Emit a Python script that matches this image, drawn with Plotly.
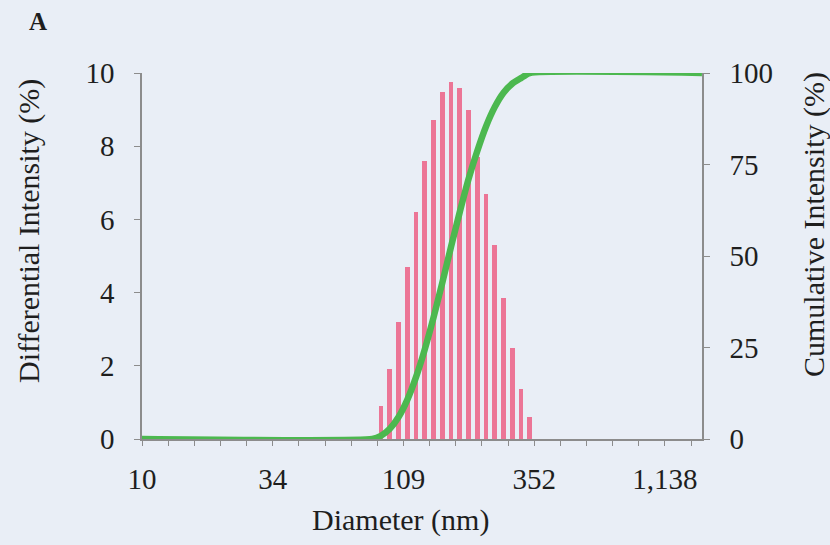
import math
import plotly.graph_objects as go

# ---------------- data ----------------
diameters = [89.5, 96.8, 104.7, 113.2, 122.4, 132.4, 143.2, 154.9, 167.5,
             181.1, 195.9, 211.9, 229.1, 247.8, 268.0, 289.8, 313.4, 339.0]
differential = [0.90, 1.91, 3.21, 4.69, 6.20, 7.60, 8.71, 9.47, 9.76,
                9.58, 8.99, 7.71, 6.70, 5.29, 3.84, 2.50, 1.36, 0.60]

cum_diameters = [10.5, 82.8] + diameters + [1585]
cumulative = [0, 0,
              0.9, 2.8, 6.0, 10.7, 16.9, 24.5, 33.2, 42.7, 52.5,
              62.0, 71.0, 78.7, 85.4, 90.7, 94.6, 97.1, 98.6, 100,
              100]

x_tick_values = [10.52, 34, 109, 352, 1138]
x_tick_labels = ["10", "34", "109", "352", "1,138"]
y_left_ticks = [0, 2, 4, 6, 8, 10]
y_right_ticks = [0, 25, 50, 75, 100]

# ---------------- styling ----------------
FONT = "Liberation Serif, Times New Roman, serif"
TXT = "#1e1e1e"
AX = "#8c8c8c"
BG = "#e9eef6"
PINK = "#ec7596"
GREEN = "#4cb84f"
FS = 29
FT = 30

# minor ticks: 5 per labelled interval (equal log steps)
lo, hi = math.log10(x_tick_values[0]), math.log10(x_tick_values[-1])
step = (hi - lo) / 20
minor_vals = [10 ** (lo + step * k) for k in range(0, 22)]
all_tickvals = minor_vals
all_ticktext = []
for v in minor_vals:
    lab = ""
    for tv, tt in zip(x_tick_values, x_tick_labels):
        if abs(math.log10(v) - math.log10(tv)) < step / 2:
            lab = tt
    all_ticktext.append(lab)

bar_widths = [d * 0.042 for d in diameters]

fig = go.Figure()
fig.add_trace(go.Bar(
    x=diameters, y=differential, width=bar_widths,
    marker=dict(color=PINK, line=dict(width=0)),
    yaxis="y", showlegend=False,
))
fig.add_trace(go.Scatter(
    x=cum_diameters, y=cumulative, mode="lines",
    line=dict(color=GREEN, width=6.5, shape="spline", smoothing=0.5),
    yaxis="y2", cliponaxis=False, showlegend=False,
))

x_lo = math.log10(x_tick_values[0])
x_hi = x_lo + 560 / 257.1

fig.update_layout(
    width=830, height=545,
    margin=dict(l=142, r=128, t=73, b=106),
    paper_bgcolor=BG, plot_bgcolor=BG,
    font=dict(family=FONT, color=TXT, size=FS),
    bargap=0,
    xaxis=dict(
        type="log", range=[x_lo, x_hi],
        tickmode="array", tickvals=all_tickvals, ticktext=all_ticktext,
        ticks="outside", ticklen=5, tickwidth=1.3, tickcolor=AX,
        showline=True, linecolor=AX, linewidth=1.5,
        showgrid=False, zeroline=False,
        tickfont=dict(family=FONT, size=FS, color=TXT),
        ticklabelstandoff=8,
    ),
    yaxis=dict(
        range=[0, 10], tickvals=y_left_ticks,
        ticks="outside", ticklen=6, tickwidth=1.3, tickcolor=AX,
        showline=True, linecolor=AX, linewidth=1.5,
        showgrid=False, zeroline=False,
        tickfont=dict(family=FONT, size=FS, color=TXT),
        ticklabelstandoff=14,
    ),
    yaxis2=dict(
        overlaying="y", side="right",
        range=[0, 100], tickvals=y_right_ticks,
        ticks="outside", ticklen=6, tickwidth=1.3, tickcolor=AX,
        showline=True, linecolor=AX, linewidth=1.5,
        showgrid=False, zeroline=False,
        tickfont=dict(family=FONT, size=FS, color=TXT),
        ticklabelstandoff=14,
    ),
    annotations=[
        dict(text="<b>A</b>", xref="paper", yref="paper",
             x=-(142 - 38) / 560, y=1 + (73 - 22) / 366,
             xanchor="center", yanchor="middle",
             showarrow=False, font=dict(family=FONT, size=25, color=TXT)),
        dict(text="Diameter (nm)", xref="paper", yref="paper",
             x=(400 - 142) / 560, y=-(520 - 439) / 366,
             xanchor="center", yanchor="middle", showarrow=False,
             font=dict(family=FONT, size=FT, color=TXT)),
        dict(text="Differential Intensity (%)", xref="paper", yref="paper",
             x=-(142 - 29) / 560, y=(439 - 231) / 366, textangle=-90,
             xanchor="center", yanchor="middle", showarrow=False,
             font=dict(family=FONT, size=FT, color=TXT)),
        dict(text="Cumulative Intensity (%)", xref="paper", yref="paper",
             x=1 + (814 - 702) / 560, y=(439 - 225) / 366, textangle=-90,
             xanchor="center", yanchor="middle", showarrow=False,
             font=dict(family=FONT, size=FT, color=TXT)),
    ],
)

fig.write_html("out.html")
